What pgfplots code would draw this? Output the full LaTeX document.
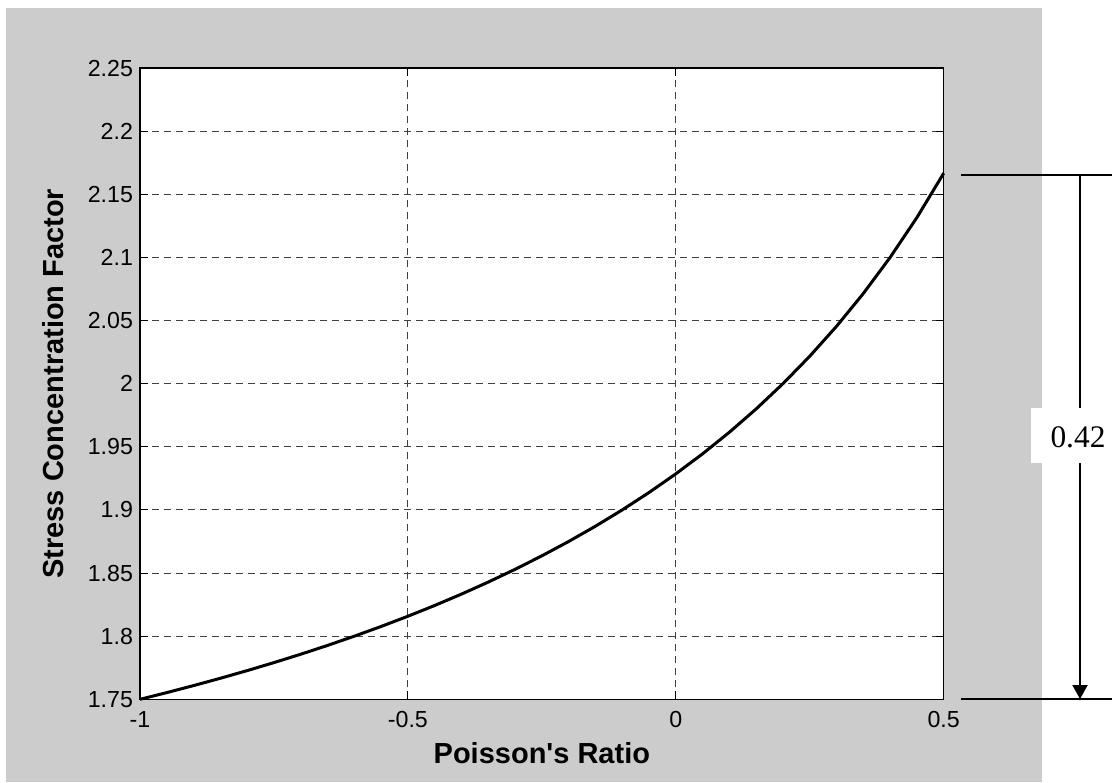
\documentclass[border=0pt]{standalone}
\usepackage{fontspec}
\setmainfont{Liberation Sans}
\newfontfamily\labelfont{Liberation Sans}
\newfontfamily\seriffont{Liberation Serif}
\usepackage{pgfplots}
\pgfplotsset{compat=1.18}
\usetikzlibrary{arrows.meta}
\definecolor{bg}{RGB}{204,204,204}
\begin{document}
\begin{tikzpicture}
\useasboundingbox (0,0) rectangle (556pt,-391pt);
\fill[bg] (3pt,-4pt) rectangle (521pt,-391pt);
\begin{axis}[
  at={(70pt,-349.65pt)}, anchor=south west,
  scale only axis, width=401.85pt, height=315.65pt,
  xmin=-1, xmax=0.5, ymin=1.75, ymax=2.25,
  axis background/.style={fill=white},
  axis line style={black, line width=0.75pt},
  xtick={-1,-0.5,0,0.5}, xticklabels={\raisebox{4.5pt}{-1},-0.5,0,0.5},
  ytick={1.75,1.8,1.85,1.9,1.95,2,2.05,2.1,2.15,2.2,2.25},
  yticklabels={1.75,1.8,1.85,1.9,1.95,2,2.05,2.1,2.15,2.2,2.25},
  tick align=inside, major tick length=4pt,
  tick style={black, line width=0.5pt},
  grid=major,
  major grid style={dash pattern=on 3.5pt off 2.5pt, black!75, line width=0.5pt},
  ticklabel style={font=\labelfont\fontsize{11.6}{13}\selectfont},
  xticklabel style={yshift=-2.5pt},
  xlabel={Poisson's Ratio},
  ylabel={Stress Concentration Factor},
  xlabel style={at={(axis description cs:0.5,-0.1009)}, anchor=base, font=\labelfont\fontsize{14.5}{17}\selectfont\bfseries},
  ylabel style={at={(axis description cs:-0.0958,0.5)}, anchor=base, font=\labelfont\fontsize{14.5}{17}\selectfont\bfseries},
  clip=false,
]
\addplot[black, line width=1.5pt] coordinates {
(-1,1.75) (-0.95,1.75532) (-0.9,1.76087) (-0.85,1.76667) (-0.8,1.77273)
(-0.75,1.77907) (-0.7,1.78571) (-0.65,1.79268) (-0.6,1.8) (-0.55,1.80769)
(-0.5,1.81579) (-0.45,1.82432) (-0.4,1.83333) (-0.35,1.84286) (-0.3,1.85294)
(-0.25,1.86364) (-0.2,1.875) (-0.15,1.88710) (-0.1,1.9) (-0.05,1.91379)
(0,1.92857) (0.05,1.94444) (0.1,1.96154) (0.15,1.98) (0.2,2.0)
(0.25,2.02174) (0.3,2.04545) (0.35,2.07143) (0.4,2.1) (0.45,2.13158) (0.5,2.16667)
};
\end{axis}
\draw[line width=0.75pt] (480.5pt,-87.5pt) -- (556pt,-87.5pt);
\draw[line width=0.75pt] (480.5pt,-349.5pt) -- (556pt,-349.5pt);
\draw[line width=1pt, -{Triangle[width=7.5pt,length=7pt]}] (540pt,-87.5pt) -- (540pt,-349.5pt);
\fill[white] (515.5pt,-204pt) rectangle (556pt,-231.5pt);
\node[font=\fontsize{15.7}{18}\selectfont\seriffont, inner sep=0pt] at (539pt,-218.5pt) {0.42};
\end{tikzpicture}
\end{document}
